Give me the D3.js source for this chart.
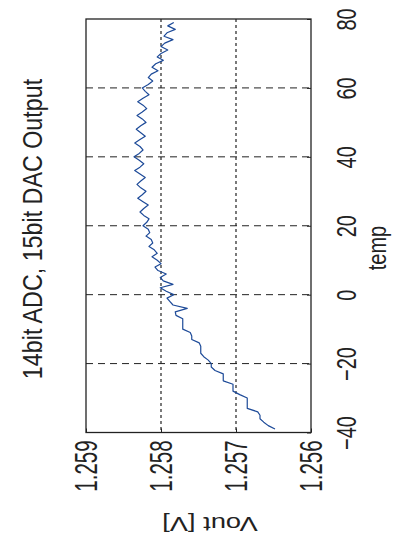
<!DOCTYPE html>
<html>
<head>
<meta charset="utf-8">
<script src="https://cdn.jsdelivr.net/npm/d3@7"></script>
<style>
html,body{margin:0;padding:0;background:#ffffff;}
svg{display:block;}
text{font-family:"Liberation Sans", Arial, sans-serif; fill:#222;}
</style>
</head>
<body>
<svg id="chart" width="396" height="537"></svg>
<script>
// Data read from the (rotated) reference: temperature vs output voltage
const temps = [-39,-38,-37,-36,-35,-34,-33,-32,-31,-30,-29,-28,-27,-26,-25,-24,-23,-22,-21,-20,
  -19,-18,-17,-16,-15,-14,-13,-12,-11,-10,-9,-8,-7,-6,-5,-4,-3,-2,-1,0,
  1,2,3,4,5,6,7,8,9,10,11,12,13,14,15,16,17,18,19,20,
  21,22,23,24,25,26,27,28,29,30,31,32,33,34,35,36,37,38,39,40,
  41,42,43,44,45,46,47,48,49,50,51,52,53,54,55,56,57,58,59,60,
  61,62,63,64,65,66,67,68,69,70,71,72,73,74,75,76,77,78,79];
const vout = [1.25648,1.25657,1.25663,1.25668,1.25668,1.25671,1.25685,1.25685,1.25685,1.25685,
  1.25695,1.25704,1.25704,1.25704,1.25717,1.25717,1.25717,1.25728,1.25733,1.25733,
  1.25737,1.25743,1.25747,1.25747,1.25747,1.25749,1.25759,1.25759,1.25761,1.25771,
  1.25771,1.25771,1.25771,1.25780,1.25781,1.25765,1.25784,1.25788,1.25792,1.25783,
  1.25793,1.25801,1.25784,1.25797,1.25801,1.25793,1.25804,1.25808,1.25800,1.25805,
  1.25812,1.25805,1.25809,1.25816,1.25811,1.25813,1.25820,1.25815,1.25817,1.25824,
  1.25819,1.25816,1.25823,1.25828,1.25823,1.25817,1.25824,1.25831,1.25825,1.25820,
  1.25827,1.25832,1.25827,1.25821,1.25828,1.25835,1.25828,1.25823,1.25829,1.25836,
  1.25829,1.25824,1.25828,1.25835,1.25828,1.25821,1.25827,1.25833,1.25827,1.25820,
  1.25825,1.25832,1.25825,1.25819,1.25824,1.25831,1.25824,1.25816,1.25821,1.25825,
  1.25817,1.25811,1.25817,1.25813,1.25804,1.25812,1.25807,1.25797,1.25805,1.25800,
  1.25791,1.25800,1.25795,1.25784,1.25796,1.25792,1.25781,1.25791,1.25783];
const tempTicks = [-40,-20,0,20,40,60,80];
const voutTicks = [1.256,1.257,1.258,1.259];
const titleText = "14bit ADC, 15bit DAC Output";
const xLabel = "temp";
const yLabel = "Vout [V]";

(function(){
const svg = d3.select("#chart");
svg.append("rect").attr("width",396).attr("height",537).attr("fill","#ffffff");

// The chart is shown rotated 90° counter-clockwise: temp runs upward, Vout runs leftward.
const yT = d3.scaleLinear().domain([-40,80]).range([432.5,19]);
const xV = d3.scaleLinear().domain([1.259,1.256]).range([86,311]);

const pL = xV(1.259), pR = xV(1.256), pT = yT(80), pB = yT(-40);

// grid lines
svg.append("g").selectAll("line").data(tempTicks.slice(1,-1)).join("line")
  .attr("x1",pL).attr("x2",pR)
  .attr("y1",d=>yT(d)).attr("y2",d=>yT(d))
  .attr("stroke","#222").attr("stroke-width",1).attr("stroke-dasharray","7,5");
svg.append("g").selectAll("line").data(voutTicks.slice(1,-1)).join("line")
  .attr("y1",pT).attr("y2",pB)
  .attr("x1",d=>xV(d)).attr("x2",d=>xV(d))
  .attr("stroke","#222").attr("stroke-width",1.2).attr("stroke-dasharray","3,3");

// data line
const pts = temps.map((t,i)=>({t:t, v:vout[i]}));
svg.append("path").datum(pts)
  .attr("fill","none").attr("stroke","#1d4a98").attr("stroke-width",1.2)
  .attr("stroke-linejoin","round")
  .attr("d", d3.line().x(d=>xV(d.v)).y(d=>yT(d.t)));

// axes (temp on right, Vout on bottom)
const axT = svg.append("g").attr("transform",`translate(${pR},0)`)
  .call(d3.axisRight(yT).tickValues(tempTicks).tickSize(-4).tickFormat(d3.format("d")));
axT.select(".domain").remove();
axT.selectAll(".tick line").attr("stroke","#222");
axT.selectAll(".tick text")
  .attr("x",null).attr("dy",null).attr("text-anchor","middle")
  .attr("dominant-baseline","central")
  .attr("font-size",20)
  .attr("transform",`translate(${346-pR},0) scale(1.4,1) rotate(-90)`);

const axV = svg.append("g").attr("transform",`translate(0,${pB})`)
  .call(d3.axisBottom(xV).tickValues(voutTicks).tickSize(-4).tickFormat(d3.format(".3f")));
axV.select(".domain").remove();
axV.selectAll(".tick line").attr("stroke","#222");
axV.selectAll(".tick text")
  .attr("y",null).attr("dy",null).attr("text-anchor","middle")
  .attr("dominant-baseline","central")
  .attr("font-size",20.5)
  .attr("transform",`translate(0,${466-pB}) scale(1.5,1) rotate(-90)`);
svg.selectAll(".tick text").attr("fill","#222").attr("font-family","Liberation Sans, Arial, sans-serif");

// box
svg.append("rect").attr("x",pL).attr("y",pT)
  .attr("width",pR-pL).attr("height",pB-pT)
  .attr("fill","none").attr("stroke","#222").attr("stroke-width",1.3);

// title
svg.append("text").text(titleText)
  .attr("text-anchor","middle").attr("font-size",23.3)
  .attr("transform","translate(42,229) scale(1.15,1) rotate(-90)");
// temp label
svg.append("text").text(xLabel)
  .attr("text-anchor","middle").attr("font-size",20)
  .attr("transform","translate(386,248) scale(1.3,1) rotate(-90)");
// Vout label (upside down)
svg.append("text").text(yLabel)
  .attr("text-anchor","middle").attr("dominant-baseline","central").attr("font-size",21)
  .attr("transform","translate(210,524) scale(1.3,1) rotate(180)");
})();
</script>
</body>
</html>
